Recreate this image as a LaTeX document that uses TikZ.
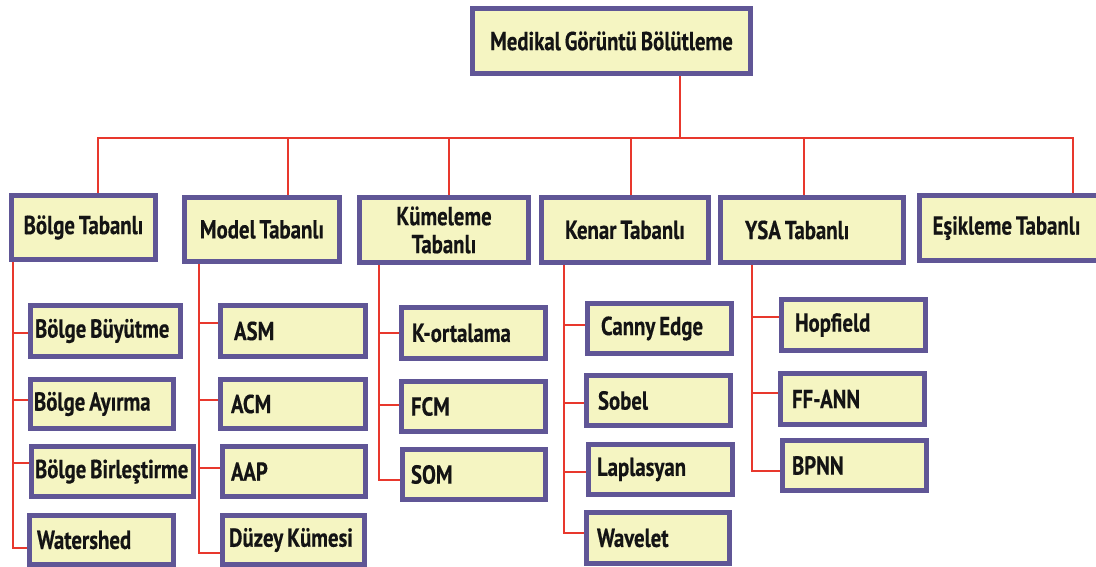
\documentclass[tikz,border=0pt]{standalone}
\usepackage{fontspec}
\setsansfont{PT Sans}[FakeStretch=0.8,WordSpace=0.75,BoldFeatures={FakeBold=0.4}]
\usetikzlibrary{calc}
\definecolor{bxborder}{RGB}{96,86,150}
\definecolor{bxfill}{RGB}{245,245,194}
\definecolor{lnred}{RGB}{232,56,45}
\definecolor{txt}{RGB}{20,20,20}
\pgfdeclarelayer{bg}
\pgfsetlayers{bg,main}
\tikzset{
  box/.style={draw=bxborder, fill=bxfill, line width=5pt, text=txt,
    font=\sffamily\bfseries\fontsize{26}{28}\selectfont, inner ysep=0pt},
  conn/.style={draw=lnred, line width=2pt},
}
% #1 name, #2 x1, #3 y1, #4 x2, #5 y2, #6 text
\newcommand\catbox[6]{%
  \pgfmathsetmacro\bw{#4-#2-5}\pgfmathsetmacro\bh{#5-#3-5}%
  \node[box, align=center, minimum width=\bw pt, minimum height=\bh pt] (#1) at ({(#2+#4)/2},{(#3+#5)/2}) {#6};}
% #1 name, #2 x1, #3 y1, #4 x2, #5 y2, #6 pad, #7 text
\newcommand\leafbox[7]{%
  \pgfmathsetmacro\bw{#4-#2-5}\pgfmathsetmacro\bh{#5-#3-5}%
  \pgfmathsetmacro\xs{#6-3.5}\pgfmathsetmacro\tw{#4-#2-5-2*(#6-3.5)}%
  \node[box, align=left, text width=\tw pt, inner xsep=\xs pt, minimum width=\bw pt, minimum height=\bh pt] (#1) at ({(#2+#4)/2},{(#3+#5)/2}) {\mbox{\spaceskip=0pt\xspaceskip=0pt\relax #7}};}
\begin{document}
\begin{tikzpicture}[x=1pt,y=-1pt]
\useasboundingbox (0,0) rectangle (1096,567);
% top
\catbox{top}{470}{6}{753}{76}{Medikal Görüntü Bölütleme}
% categories
\catbox{bolge}{9}{193}{158}{262}{Bölge Tabanlı}
\catbox{model}{182}{195}{342}{264}{Model Tabanlı}
\catbox{kume}{357}{195}{531}{265}{Kümeleme\\Tabanlı}
\catbox{kenar}{539}{195}{711}{265}{Kenar Tabanlı}
\leafbox{ysa}{718}{195}{906}{265}{28}{YSA Tabanlı}
\catbox{esik}{917}{193}{1116}{263}{Eşikleme Tabanlı\hspace*{20pt}}
% Bölge leaves
\leafbox{bb}{28}{303}{183}{359}{8}{Bölge Büyütme}
\leafbox{ba}{28}{377}{176}{431}{7}{Bölge Ayırma}
\leafbox{bbir}{29}{444}{196}{499}{7}{Bölge Birleştirme}
\leafbox{ws}{27}{513}{176}{567}{11}{Watershed}
% Model leaves
\leafbox{asm}{218}{303}{368}{359}{17}{ASM}
\leafbox{acm}{218}{377}{368}{431}{14}{ACM}
\leafbox{aap}{220}{444}{368}{499}{12}{AAP}
\leafbox{duzey}{220}{513}{367}{567}{10}{Düzey Kümesi}
% Kümeleme leaves
\leafbox{kort}{399}{305}{548}{361}{14}{K-ortalama}
\leafbox{fcm}{399}{379}{548}{434}{13}{FCM}
\leafbox{som}{400}{447}{548}{502}{12}{SOM}
% Kenar leaves
\leafbox{canny}{585}{301}{734}{356}{17}{Canny Edge}
\leafbox{sobel}{584}{373}{733}{428}{15}{Sobel}
\leafbox{lap}{586}{442}{735}{497}{12}{Laplasyan}
\leafbox{wave}{584}{510}{732}{566}{14}{Wavelet}
% YSA leaves
\leafbox{hop}{779}{297}{928}{353}{17}{Hopfield}
\leafbox{ff}{778}{371}{927}{427}{15}{FF-ANN}
\leafbox{bpnn}{780}{438}{929}{493}{13}{BPNN}

\begin{pgfonlayer}{bg}
\coordinate (hub) at (0,138);
\draw[conn] ([xshift=68.5pt]top.south) -- ([xshift=68.5pt]top.south |- hub);
\draw[conn] ([xshift=14.5pt]bolge.north) |- ([xshift=56.5pt]esik.north |- hub) -- ([xshift=56.5pt]esik.north);
\draw[conn] ([xshift=26pt]model.north) -- ([xshift=26pt]model.north |- hub);
\draw[conn] ([xshift=5pt]kume.north) -- ([xshift=5pt]kume.north |- hub);
\draw[conn] ([xshift=6pt]kenar.north) -- ([xshift=6pt]kenar.north |- hub);
\draw[conn] ([xshift=-8pt]ysa.north) -- ([xshift=-8pt]ysa.north |- hub);
% spines
\coordinate (sb) at ([xshift=3.5pt]bolge.south west);
\coordinate (sm) at ([xshift=16.5pt]model.south west);
\coordinate (sk) at ([xshift=21.5pt]kume.south west);
\coordinate (se) at ([xshift=24.5pt]kenar.south west);
\coordinate (sy) at ([xshift=33.5pt]ysa.south west);
\draw[conn] (sb) |- ([yshift=-2pt]bb.west);
\draw[conn] (sb) |- ([yshift=4pt]ba.west);
\draw[conn] (sb) |- ([yshift=8.5pt]bbir.west);
\draw[conn] (sb) |- ([yshift=-8pt]ws.west);
\draw[conn] (sm) |- ([yshift=8pt]asm.west);
\draw[conn] (sm) |- ([yshift=4pt]acm.west);
\draw[conn] (sm) |- ([yshift=3.5pt]aap.west);
\draw[conn] (sm) |- ([yshift=-13pt]duzey.west);
\draw[conn] (sk) |- (kort.west);
\draw[conn] (sk) |- ([yshift=1.5pt]fcm.west);
\draw[conn] (sk) |- ([yshift=-5.5pt]som.west);
\draw[conn] (se) |- ([yshift=3.5pt]canny.west);
\draw[conn] (se) |- ([yshift=-2.5pt]sobel.west);
\draw[conn] (se) |- ([yshift=-2.5pt]lap.west);
\draw[conn] (se) |- ([yshift=5pt]wave.west);
\draw[conn] (sy) |- ([yshift=8pt]hop.west);
\draw[conn] (sy) |- ([yshift=6pt]ff.west);
\draw[conn] (sy) |- ([yshift=-5.5pt]bpnn.west);
\end{pgfonlayer}
\end{tikzpicture}
\end{document}
